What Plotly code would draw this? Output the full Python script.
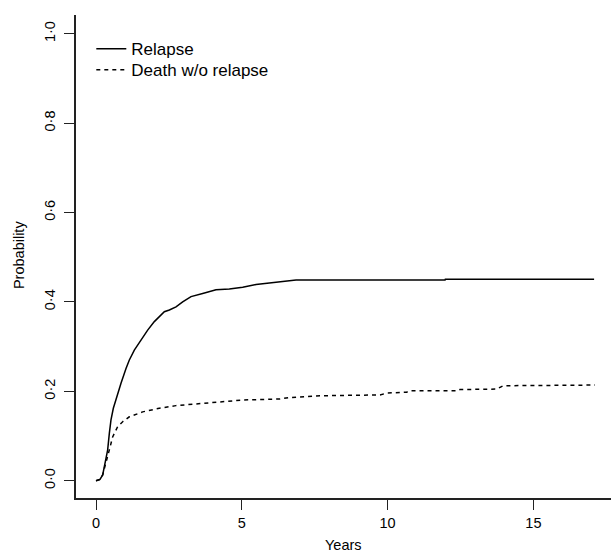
import plotly.graph_objects as go

# Data
relapse_years = [0, 0.137, 0.229, 0.32, 0.40, 0.457, 0.514, 0.594, 0.709, 0.857, 1.029, 1.143,
                 1.314, 1.543, 1.772, 2.0, 2.17, 2.343, 2.515, 2.743, 2.972, 3.258, 3.658,
                 4.115, 4.572, 5.03, 5.487, 5.944, 6.287, 6.63, 6.86, 11.97, 11.98, 17.08]
relapse_prob = [0, 0.003, 0.013, 0.039, 0.069, 0.106, 0.136, 0.162, 0.188, 0.218, 0.251, 0.270,
                0.292, 0.315, 0.337, 0.356, 0.368, 0.378, 0.382, 0.389, 0.400, 0.412, 0.419,
                0.427, 0.429, 0.433, 0.439, 0.442, 0.444, 0.447, 0.449, 0.449, 0.451, 0.451]

death_years = [0, 0.137, 0.229, 0.343, 0.457, 0.571, 0.743, 0.914, 1.143, 1.6, 2.17, 2.74,
               3.886, 4.6, 5.03, 6.31, 6.65, 7.2, 7.68, 9.74, 9.97, 10.65, 10.77, 12.37,
               12.48, 13.74, 13.96, 17.11]
death_prob = [0, 0.003, 0.013, 0.039, 0.069, 0.098, 0.121, 0.132, 0.143, 0.154, 0.162, 0.168,
              0.1745, 0.178, 0.1805, 0.183, 0.186, 0.188, 0.190, 0.192, 0.196, 0.198, 0.201, 0.201,
              0.204, 0.205, 0.2125, 0.214]

y_ticks = [0.0, 0.2, 0.4, 0.6, 0.8, 1.0]
y_tick_labels = ["0·0", "0·2", "0·4", "0·6", "0·8", "1·0"]
x_ticks = [0, 5, 10, 15]
x_tick_labels = ["0", "5", "10", "15"]

FONT = "Liberation Sans, Arial, Helvetica, sans-serif"

fig = go.Figure()
fig.add_trace(go.Scatter(x=relapse_years, y=relapse_prob, mode="lines", name="Relapse",
                         line=dict(color="black", width=1.5), legend="legend"))
fig.add_trace(go.Scatter(x=death_years, y=death_prob, mode="lines", name="Death w/o relapse",
                         line=dict(color="black", width=1.5, dash="4px,4px"), legend="legend2"))

legend_common = dict(xanchor="left", yanchor="top", bgcolor="rgba(0,0,0,0)", borderwidth=0,
                     font=dict(family=FONT, size=17, color="black"), itemwidth=30)

fig.update_layout(
    width=611, height=554,
    margin=dict(l=76, r=0, t=15, b=56),
    paper_bgcolor="white", plot_bgcolor="white",
    font=dict(family=FONT, color="black", size=14.5),
    showlegend=True,
    legend=dict(x=0.0286, y=0.9665, **legend_common),
    legend2=dict(x=0.0286, y=0.923, **legend_common),
    xaxis=dict(range=[-0.686, 17.66], tickmode="array", tickvals=x_ticks, ticktext=x_tick_labels,
               showgrid=False, zeroline=False, showline=True, linecolor="#222", linewidth=1.5,
               ticks="outside", ticklen=10, tickwidth=1.2, tickcolor="#222",
               tickfont=dict(family=FONT, size=14.5, color="black"), ticklabelstandoff=1,
               automargin=False),
    yaxis=dict(range=[-0.0387, 1.042], tickmode="array", tickvals=y_ticks, ticktext=y_tick_labels,
               showgrid=False, zeroline=False, showline=True, linecolor="#222", linewidth=1.5,
               ticks="outside", ticklen=10, tickwidth=1.2, tickcolor="#222", tickangle=-90,
               tickfont=dict(family=FONT, size=14.5, color="black"), ticklabelstandoff=3,
               automargin=False),
    annotations=[
        dict(text="Years", xref="paper", yref="paper", x=0.5, y=-47 / 483,
             xanchor="center", yanchor="middle", showarrow=False,
             font=dict(family=FONT, size=14.5, color="black")),
        dict(text="Probability", xref="paper", yref="paper", x=-57 / 535, y=0.503,
             xanchor="center", yanchor="middle", showarrow=False, textangle=-90,
             font=dict(family=FONT, size=14.5, color="black")),
    ],
)

fig.write_html("out.html", config={"displayModeBar": False},
               post_script="document.body.style.margin='0px';document.body.style.overflow='hidden';")
